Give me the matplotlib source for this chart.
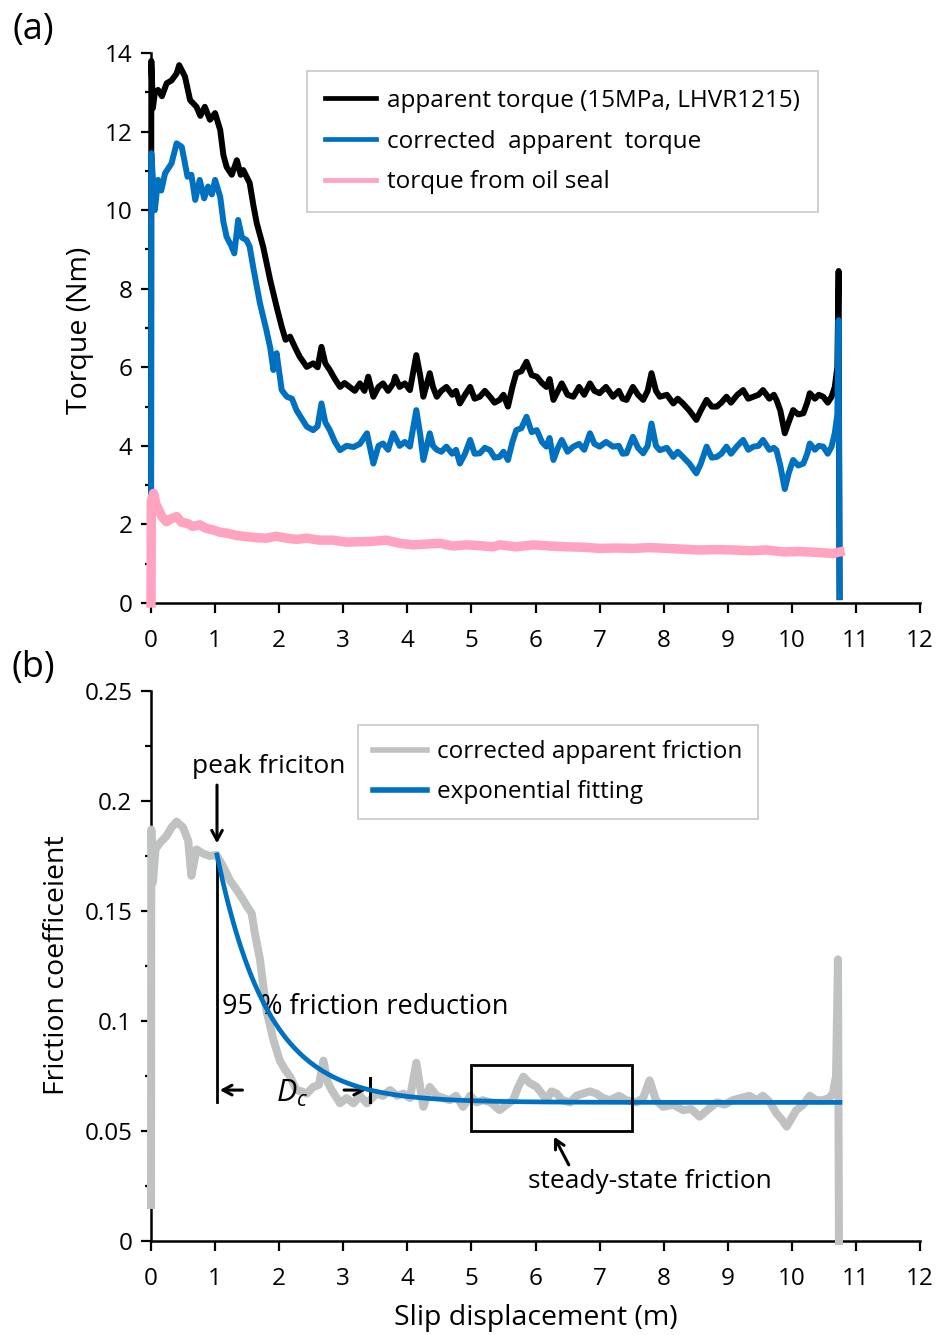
import matplotlib
matplotlib.use("Agg")
import matplotlib.pyplot as plt
import numpy as np
from matplotlib.ticker import MultipleLocator, FixedLocator, FuncFormatter
from matplotlib.patches import Rectangle

plt.rcParams['font.family'] = ['Open Sans', 'DejaVu Sans']
plt.rcParams['mathtext.fontset'] = 'custom'
plt.rcParams['mathtext.it'] = 'Open Sans:italic'
plt.rcParams['mathtext.rm'] = 'Open Sans'

# ---------------- data ----------------
# (a) apparent torque (15MPa, LHVR1215)
app_x = [0, 0.005, 0.03, 0.06, 0.11, 0.17, 0.245, 0.32, 0.40, 0.44, 0.53, 0.61, 0.71, 0.77, 0.84, 0.92,
         1.0, 1.08, 1.13, 1.18, 1.26, 1.34, 1.40, 1.44, 1.54, 1.60, 1.65, 1.75, 1.86, 1.96, 2.04, 2.10,
         2.17, 2.25, 2.32, 2.43, 2.53, 2.60, 2.66, 2.72, 2.79, 2.87, 2.95, 3.02, 3.10, 3.18, 3.26, 3.33,
         3.39, 3.47, 3.55, 3.62, 3.70, 3.78, 3.81, 3.88, 3.96, 4.04, 4.14, 4.20, 4.25, 4.35, 4.40, 4.46,
         4.53, 4.61, 4.70, 4.76, 4.82, 4.90, 4.98, 5.05, 5.13, 5.21, 5.29, 5.36, 5.44, 5.50, 5.57, 5.64,
         5.70, 5.78, 5.86, 5.94, 6.02, 6.10, 6.17, 6.22, 6.28, 6.35, 6.41, 6.50, 6.59, 6.68, 6.76, 6.85,
         6.92, 7.0, 7.10, 7.21, 7.30, 7.36, 7.42, 7.52, 7.60, 7.68, 7.75, 7.81, 7.88, 7.94, 8.05, 8.15,
         8.22, 8.30, 8.40, 8.51, 8.58, 8.67, 8.75, 8.83, 8.90, 8.98, 9.05, 9.15, 9.24, 9.32, 9.40, 9.48,
         9.55, 9.65, 9.72, 9.76, 9.82, 9.89, 9.95, 10.02, 10.10, 10.18, 10.24, 10.28, 10.36, 10.42, 10.49,
         10.56, 10.62, 10.67, 10.71, 10.73, 10.745]
app_y = [0, 13.8, 12.6, 13.0, 13.06, 12.9, 13.23, 13.3, 13.48, 13.69, 13.4, 12.8, 12.63, 12.4, 12.63, 12.3,
         12.47, 12.04, 11.4, 11.1, 10.9, 11.27, 10.9, 11.02, 10.69, 10.1, 9.67, 9.07, 8.22, 7.54, 7.03, 6.7,
         6.78, 6.5, 6.27, 6.01, 6.1, 6.0, 6.52, 6.1, 5.93, 5.7, 5.5, 5.6, 5.5, 5.4, 5.59, 5.4,
         5.76, 5.25, 5.5, 5.59, 5.4, 5.59, 5.76, 5.5, 5.59, 5.42, 6.31, 5.8, 5.25, 5.85, 5.5, 5.25,
         5.4, 5.5, 5.3, 5.4, 5.08, 5.3, 5.5, 5.2, 5.25, 5.4, 5.25, 5.1, 5.17, 5.3, 5.0, 5.5,
         5.85, 5.9, 6.14, 5.8, 5.76, 5.6, 5.5, 5.7, 5.17, 5.4, 5.59, 5.3, 5.25, 5.5, 5.3, 5.59,
         5.4, 5.34, 5.5, 5.25, 5.4, 5.2, 5.17, 5.5, 5.3, 5.17, 5.4, 5.85, 5.4, 5.25, 5.3, 5.08,
         5.2, 5.08, 4.9, 4.66, 4.9, 5.17, 5.0, 5.0, 5.1, 5.25, 5.1, 5.3, 5.42, 5.2, 5.25, 5.3,
         5.42, 5.2, 5.3, 5.17, 4.9, 4.32, 4.6, 4.91, 4.8, 4.83, 5.1, 5.34, 5.2, 5.3, 5.25,
         5.1, 5.25, 5.5, 6.0, 8.45, 0.15]

# (a) corrected apparent torque
cor_x = [0, 0.005, 0.06, 0.11, 0.16, 0.22, 0.32, 0.40, 0.48, 0.57, 0.63, 0.69, 0.76, 0.83, 0.89, 0.95,
         1.0, 1.08, 1.13, 1.18, 1.25, 1.30, 1.36, 1.42, 1.49, 1.54, 1.60, 1.70, 1.80, 1.86, 1.91, 1.96,
         2.04, 2.12, 2.20, 2.27, 2.35, 2.43, 2.53, 2.60, 2.66, 2.72, 2.79, 2.87, 2.95, 3.05, 3.16, 3.26,
         3.37, 3.47, 3.55, 3.62, 3.70, 3.78, 3.88, 3.96, 4.04, 4.14, 4.20, 4.25, 4.35, 4.40, 4.46, 4.53,
         4.61, 4.70, 4.76, 4.82, 4.90, 4.98, 5.05, 5.13, 5.21, 5.29, 5.36, 5.44, 5.50, 5.57, 5.64, 5.70,
         5.78, 5.86, 5.94, 6.02, 6.10, 6.17, 6.22, 6.28, 6.35, 6.41, 6.50, 6.59, 6.68, 6.76, 6.85, 6.92,
         7.0, 7.10, 7.21, 7.30, 7.36, 7.42, 7.52, 7.60, 7.68, 7.75, 7.81, 7.88, 7.94, 8.05, 8.15, 8.22,
         8.30, 8.40, 8.51, 8.58, 8.67, 8.75, 8.83, 8.90, 8.98, 9.05, 9.15, 9.24, 9.32, 9.40, 9.48, 9.55,
         9.65, 9.72, 9.76, 9.82, 9.89, 9.95, 10.02, 10.10, 10.18, 10.24, 10.28, 10.36, 10.42, 10.49,
         10.56, 10.62, 10.67, 10.71, 10.73, 10.745]
cor_y = [0, 11.45, 10.0, 10.77, 10.5, 10.94, 11.19, 11.7, 11.61, 10.85, 10.9, 10.26, 10.77, 10.3, 10.6, 10.4,
         10.77, 10.34, 9.7, 9.32, 9.1, 8.9, 9.75, 9.3, 9.24, 9.07, 8.5, 7.63, 6.95, 6.5, 5.93, 6.36,
         5.42, 5.25, 5.2, 4.91, 4.7, 4.49, 4.4, 4.5, 5.08, 4.6, 4.4, 4.1, 3.89, 4.0, 3.97, 4.05,
         4.32, 3.55, 4.0, 4.06, 3.9, 4.32, 4.0, 4.1, 3.98, 4.91, 4.3, 3.64, 4.32, 4.0, 3.9, 3.85,
         3.98, 3.8, 3.9, 3.55, 3.8, 4.15, 3.8, 3.81, 3.95, 3.89, 3.7, 3.72, 3.85, 3.64, 4.1, 4.4,
         4.45, 4.74, 4.35, 4.4, 4.1, 3.98, 4.2, 3.64, 3.95, 4.15, 3.85, 3.98, 4.05, 3.9, 4.32, 4.05,
         3.98, 4.1, 3.98, 4.0, 3.8, 3.81, 4.23, 3.95, 3.81, 4.0, 4.57, 4.0, 3.89, 3.95, 3.72, 3.85,
         3.72, 3.55, 3.3, 3.55, 3.98, 3.7, 3.72, 3.8, 3.98, 3.8, 4.0, 4.15, 3.9, 3.98, 4.0, 4.15,
         3.9, 3.95, 3.89, 3.5, 2.9, 3.3, 3.64, 3.5, 3.55, 3.8, 4.06, 3.9, 4.0, 3.98,
         3.8, 3.98, 4.32, 4.8, 7.2, 0.15]

# (a) torque from oil seal
oil_x = [0, 0.005, 0.04, 0.08, 0.11, 0.17, 0.24, 0.32, 0.40, 0.48, 0.56, 0.65, 0.76, 0.86, 0.97, 1.08,
         1.18, 1.33, 1.49, 1.65, 1.80, 1.95, 2.12, 2.27, 2.43, 2.63, 2.84, 3.05, 3.26, 3.46, 3.67, 3.88,
         4.09, 4.30, 4.51, 4.71, 4.92, 5.13, 5.34, 5.44, 5.70, 5.96, 6.23, 6.49, 6.75, 7.0, 7.26, 7.52,
         7.78, 8.05, 8.30, 8.56, 8.82, 9.08, 9.34, 9.6, 9.86, 10.12, 10.38, 10.64, 10.75]
oil_y = [0, 2.6, 2.79, 2.5, 2.41, 2.2, 2.07, 2.15, 2.2, 2.05, 2.03, 1.95, 1.99, 1.9, 1.86, 1.8,
         1.78, 1.72, 1.69, 1.66, 1.65, 1.7, 1.65, 1.62, 1.65, 1.6, 1.6, 1.55, 1.56, 1.57, 1.6, 1.52,
         1.48, 1.5, 1.52, 1.45, 1.48, 1.46, 1.43, 1.48, 1.43, 1.48, 1.45, 1.43, 1.42, 1.39, 1.4, 1.39,
         1.41, 1.39, 1.37, 1.35, 1.36, 1.35, 1.33, 1.35, 1.3, 1.31, 1.29, 1.26, 1.3]

# (b) corrected apparent friction
fr_x = [0, 0.005, 0.03, 0.07, 0.14, 0.24, 0.32, 0.40, 0.50, 0.58, 0.63, 0.71, 0.82, 0.92, 1.02, 1.13,
        1.23, 1.34, 1.44, 1.50, 1.57, 1.62, 1.70, 1.80, 1.91, 2.01, 2.09, 2.17, 2.27, 2.35, 2.43, 2.53,
        2.62, 2.69, 2.76, 2.82, 2.95, 3.05, 3.16, 3.26, 3.37, 3.52, 3.62, 3.73, 3.84, 3.94, 4.04, 4.14,
        4.25, 4.35, 4.46, 4.56, 4.66, 4.76, 4.87, 4.98, 5.08, 5.18, 5.30, 5.44, 5.55, 5.65, 5.73, 5.81,
        5.90, 6.02, 6.10, 6.17, 6.25, 6.33, 6.42, 6.54, 6.64, 6.74, 6.85, 6.95, 7.05, 7.16, 7.30, 7.42,
        7.57, 7.68, 7.78, 7.88, 7.99, 8.15, 8.30, 8.43, 8.56, 8.70, 8.83, 8.95, 9.08, 9.20, 9.34, 9.45,
        9.55, 9.66, 9.76, 9.85, 9.92, 10.00, 10.07, 10.18, 10.28, 10.38, 10.49, 10.58, 10.64, 10.69,
        10.72, 10.735]
fr_y = [0.0164, 0.187, 0.163, 0.178, 0.181, 0.184, 0.188, 0.1906, 0.188, 0.182, 0.166, 0.178, 0.176, 0.175,
        0.1755, 0.170, 0.164, 0.1595, 0.155, 0.152, 0.149, 0.140, 0.128, 0.105, 0.0914, 0.082, 0.078,
        0.0747, 0.0686, 0.068, 0.067, 0.070, 0.071, 0.082, 0.072, 0.0686, 0.0626, 0.065, 0.0626, 0.066,
        0.0626, 0.067, 0.066, 0.0686, 0.066, 0.067, 0.065, 0.081, 0.061, 0.070, 0.066, 0.065, 0.064,
        0.066, 0.061, 0.066, 0.063, 0.064, 0.063, 0.0595, 0.062, 0.064, 0.070, 0.0747, 0.072, 0.070,
        0.067, 0.064, 0.068, 0.067, 0.064, 0.063, 0.066, 0.067, 0.068, 0.067, 0.065, 0.064, 0.066,
        0.064, 0.063, 0.065, 0.073, 0.064, 0.061, 0.062, 0.0595, 0.060, 0.0565, 0.060, 0.063, 0.062,
        0.064, 0.065, 0.066, 0.064, 0.066, 0.063, 0.058, 0.055, 0.052, 0.056, 0.0595, 0.062, 0.066,
        0.064, 0.064, 0.065, 0.067, 0.075, 0.128, 0.0]

# (b) exponential fitting parameters
fit_d0 = 1.03      # slip at peak friction (m)
fit_mu_p = 0.1755  # peak friction
fit_mu_ss = 0.063  # steady-state friction
fit_dc = 2.39      # Dc (95 % reduction distance, m)
fit_dend = 10.75

xticks = list(range(0, 13))
yticks_a = list(range(0, 15, 2))
yticks_b = [0, 0.05, 0.1, 0.15, 0.2, 0.25]

BLACK = '#000000'
BLUE = '#0070C0'
PINK = '#FFA3C1'
GRAY = '#C0C2C2'

W, H = 936, 1335
fig = plt.figure(figsize=(W / 100, H / 100), dpi=100)

def axrect(l, r, t, b):
    return [l / W, 1 - b / H, (r - l) / W, (b - t) / H]

ax1 = fig.add_axes(axrect(151, 920, 53, 603))
ax2 = fig.add_axes(axrect(151, 920, 691, 1241))

for ax in (ax1, ax2):
    ax.spines['top'].set_visible(False)
    ax.spines['right'].set_visible(False)
    ax.spines['left'].set_linewidth(1.8)
    ax.spines['bottom'].set_linewidth(1.8)
    ax.set_xlim(0, 12)
    ax.xaxis.set_major_locator(FixedLocator(xticks))
    ax.tick_params(which='major', direction='out', length=7.5, width=1.6, labelsize=17.5, colors='black')
    ax.tick_params(which='minor', direction='out', length=4, width=1.6)
    ax.tick_params(axis='x', pad=11)
    ax.tick_params(axis='y', pad=6)

# ---- panel (a)
ax1.set_ylim(0, 14)
ax1.yaxis.set_major_locator(FixedLocator(yticks_a))
ax1.yaxis.set_minor_locator(MultipleLocator(1))
ax1.plot(app_x, app_y, color=BLACK, lw=4.3, zorder=3, clip_on=False,
         label='apparent torque (15MPa, LHVR1215)', solid_joinstyle='round')
ax1.plot(cor_x, cor_y, color=BLUE, lw=4.3, zorder=4, clip_on=False,
         label='corrected  apparent  torque', solid_joinstyle='round')
ax1.plot(oil_x, oil_y, color=PINK, lw=6.8, zorder=5, clip_on=False,
         label='torque from oil seal', solid_joinstyle='round')
leg1 = ax1.legend(loc='upper left', bbox_to_anchor=(307 / W, 1 - 71 / H), bbox_transform=fig.transFigure,
                  fontsize=17.5, frameon=True, fancybox=False, framealpha=1, edgecolor='#C8C8C8',
                  handlelength=2.1, handletextpad=0.45, labelspacing=0.68, borderpad=0.74,
                  borderaxespad=0)
leg1.get_frame().set_linewidth(1.2)
for l in leg1.get_lines():
    l.set_linewidth(3.4)

fig.text(80 / W, 1 - 330 / H, 'Torque (Nm)', rotation=90, ha='center', va='center', fontsize=20.5)
fig.text(33 / W, 1 - 30 / H, '(a)', ha='center', va='center', fontsize=26)

# ---- panel (b)
ax2.set_ylim(0, 0.25)
ax2.yaxis.set_major_locator(FixedLocator(yticks_b))
ax2.yaxis.set_minor_locator(MultipleLocator(0.025))
ax2.yaxis.set_major_formatter(FuncFormatter(lambda v, p: '%g' % v))
ax2.plot(fr_x, fr_y, color=GRAY, lw=5.8, zorder=3, clip_on=False,
         label='corrected apparent friction', solid_joinstyle='round')
fit_x = np.linspace(fit_d0, fit_dend, 400)
fit_y = fit_mu_ss + (fit_mu_p - fit_mu_ss) * np.exp(np.log(0.05) * (fit_x - fit_d0) / fit_dc)
ax2.plot(fit_x, fit_y, color=BLUE, lw=3.4, zorder=5, label='exponential fitting')

leg2 = ax2.legend(loc='upper left', bbox_to_anchor=(358 / W, 1 - 725 / H), bbox_transform=fig.transFigure,
                  fontsize=17.5, frameon=True, fancybox=False, framealpha=1, edgecolor='#C8C8C8',
                  handlelength=2.2, handletextpad=0.45, labelspacing=0.66, borderpad=0.62,
                  borderaxespad=0)
leg2.get_frame().set_linewidth(1.2)
for l in leg2.get_lines():
    l.set_linewidth(4.0)

# annotations
ax2.plot([fit_d0, fit_d0], [fit_mu_p, 0.0633], color='black', lw=2.0, zorder=4)
ax2.annotate('', xy=(fit_d0, 0.1795), xytext=(fit_d0, 0.2085),
             arrowprops=dict(arrowstyle='->,head_length=0.7,head_width=0.38', lw=2.2, color='black'))
ax2.text(1.83, 0.2155, 'peak friciton', ha='center', va='center', fontsize=19)
ax2.text(1.11, 0.1065, '95 % friction reduction', ha='left', va='center', fontsize=19.5)
ax2.annotate('', xy=(fit_d0, 0.0686), xytext=(1.47, 0.0686),
             arrowprops=dict(arrowstyle='->,head_length=0.65,head_width=0.35', lw=2.2, color='black'))
ax2.annotate('', xy=(3.40, 0.0686), xytext=(2.97, 0.0686),
             arrowprops=dict(arrowstyle='->,head_length=0.65,head_width=0.35', lw=2.2, color='black'))
ax2.plot([3.42, 3.42], [0.063, 0.074], color='black', lw=2.2, zorder=4)
ax2.text(2.2, 0.0672, r'$D_c$', ha='center', va='center', fontsize=22)
ax2.add_patch(Rectangle((5.0, 0.05), 2.5, 0.03, fill=False, lw=2.0, ec='black', zorder=6))
ax2.annotate('', xy=(6.27, 0.0485), xytext=(6.54, 0.0335),
             arrowprops=dict(arrowstyle='->,head_length=0.65,head_width=0.35', lw=2.2, color='black'))
ax2.text(7.78, 0.027, 'steady-state friction', ha='center', va='center', fontsize=19)

fig.text(57 / W, 1 - 965 / H, 'Friction coefficeient', rotation=90, ha='center', va='center', fontsize=20.5)
fig.text(536 / W, 1 - 1318 / H, 'Slip displacement (m)', ha='center', va='center', fontsize=20.5)
fig.text(33 / W, 1 - 668 / H, '(b)', ha='center', va='center', fontsize=26)

fig.savefig('out.png', dpi=100)
